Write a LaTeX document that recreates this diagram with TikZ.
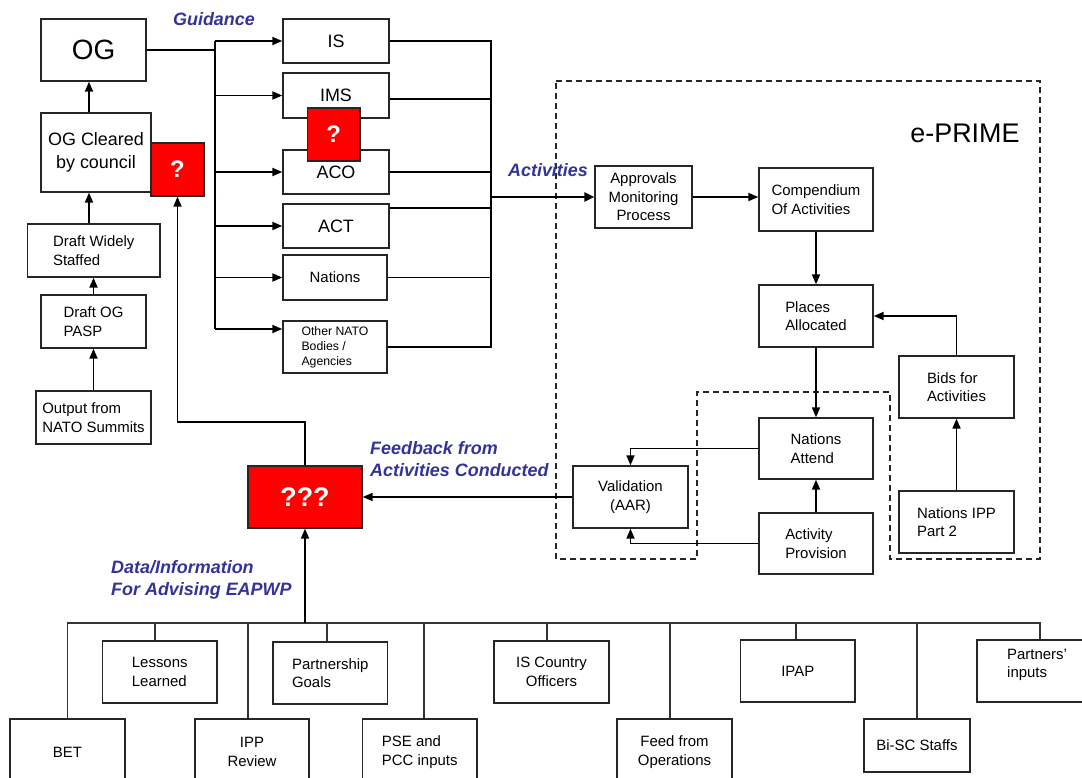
\documentclass[tikz,border=0pt]{standalone}
\usepackage{fontspec}
\setmainfont{Liberation Sans}
\usetikzlibrary{arrows.meta,calc}
\definecolor{lblue}{RGB}{51,51,153}
\newcommand\fsn{\fontsize{15}{18.5}\selectfont}
\begin{document}
\begin{tikzpicture}[x=1bp,y=-1bp,
  box/.style={draw=black!85,line width=1.3bp,fill=white,inner sep=0pt,align=center,font=\fsn},
  redbox/.style={draw=black!85,line width=1.3bp,fill=red,inner sep=0pt,text=white,font=\fontsize{24}{28}\selectfont\bfseries},
  ln/.style={line width=1.7bp,draw=black},
  thinln/.style={line width=1.3bp,draw=black!80},
  arr/.style={ln,-{Triangle[length=10bp,width=8bp]}},
  lbl/.style={text=lblue,font=\fontsize{18}{22.5}\selectfont\bfseries\itshape,align=left,inner sep=0pt},
  dsh/.style={line width=1.2bp,draw=black!85,dash pattern=on 6bp off 4bp}]
\useasboundingbox (0,0) rectangle (1082,778);
\clip (0,0) rectangle (1082,778);
\fill[white] (0,0) rectangle (1082,778);

% e-PRIME outline
\draw[dsh] (556,81) -- (1040,81) -- (1040,559) -- (890,559) -- (890,392) -- (697,392) -- (697,559) -- (556,559) -- cycle;
\node[font=\fontsize{27}{30}\selectfont, inner sep=0pt] (ep) at (965,133) {e-PRIME};

% left column
\node[box, minimum width=105bp, minimum height=62bp, font=\fontsize{28}{32}\selectfont] (OG) at (93.5,50) {OG};
\node[box, minimum width=110bp, minimum height=79bp, font=\fontsize{18}{22.5}\selectfont] (OGC) at (96,152.5) {OG Cleared\\by council};
\node[redbox, minimum width=53bp, minimum height=53bp] (q1) at (177.5,169.5) {?};
\node[box, align=left, minimum width=132.5bp, minimum height=53bp] (DWS) at (93.75,250.5) {Draft Widely\\Staffed};
\node[box, align=left, minimum width=105bp, minimum height=53bp] (DOG) at (93.5,321.5) {Draft OG\\PASP};
\node[box, align=left, minimum width=115bp, minimum height=53bp] (OUT) at (93.5,417.5) {Output from\\NATO Summits};

\draw[arr] ([xshift=-4.5bp]OG.south |- OGC.north) -- ([xshift=-4.5bp]OG.south);
\draw[arr] ([xshift=-4.5bp]OG.south |- DWS.north) -- ([xshift=-4.5bp]OG.south |- OGC.south);
\draw[arr] (DOG.north) -- (DOG.north |- DWS.south);
\draw[arr] (OUT.north) -- (DOG.south);

% guidance recipients
\node[box, minimum width=106bp, minimum height=44bp, font=\fontsize{18}{22}\selectfont] (IS) at (336,41) {IS};
\node[box, minimum width=106bp, minimum height=45bp, font=\fontsize{18}{22}\selectfont] (IMS) at (336,95.5) {IMS};
\node[box, minimum width=106bp, minimum height=44bp, font=\fontsize{18}{22}\selectfont] (ACO) at (336,172) {ACO};
\node[box, minimum width=106bp, minimum height=44bp, font=\fontsize{18}{22}\selectfont] (ACT) at (336,226) {ACT};
\node[box, minimum width=104bp, minimum height=45bp] (NAT) at (335,277.5) {Nations};
\node[box, align=left, minimum width=104bp, minimum height=52bp, font=\fontsize{12.3}{15}\selectfont] (OTH) at (335,347) {Other NATO\\Bodies /\\Agencies};
\node[redbox, minimum width=52.5bp, minimum height=53bp] (q2) at (333.75,134.5) {?};

\node[lbl] (guid) at (214,19) {Guidance};

% left bus
\coordinate (bl) at (215,50);
\draw[ln, line width=2.3bp] (OG.east) -- (bl);
\draw[ln] (bl |- IS.west) -- ([yshift=18bp]bl |- OTH.west);
\draw[arr] (bl |- IS.west) -- (IS.west);
\draw[arr] (bl |- IMS.west) -- (IMS.west);
\draw[arr] (bl |- ACO.west) -- (ACO.west);
\draw[arr] (bl |- ACT.west) -- (ACT.west);
\draw[arr] (bl |- NAT.west) -- (NAT.west);
\draw[arr] ([yshift=18bp]bl |- OTH.west) -- ([yshift=18bp]OTH.west);

% right bus
\coordinate (br) at (491,197);
\draw[ln] (IS.east) -- (br |- IS.east) -- (br |- OTH.east) -- (OTH.east);
\draw[ln] ([yshift=-3.5bp]IMS.east) -- ([yshift=-3.5bp]br |- IMS.east);
\draw[ln] (ACO.east) -- (br |- ACO.east);
\draw[ln] ([yshift=18bp]ACT.east) -- ([yshift=18bp]br |- ACT.east);
\draw[ln] (NAT.east) -- (br |- NAT.east);

% e-PRIME content
\node[box, minimum width=97bp, minimum height=62bp] (APP) at (643.5,197) {Approvals\\Monitoring\\Process};
\draw[ln, line width=2.8bp, -{Triangle[length=10bp,width=9bp]}] (br) -- (APP.west);
\node[lbl] (actl) at (548,170) {Activities};

\node[box, align=left, minimum width=114bp, minimum height=63bp] (COMP) at (816,199.5) {Compendium\\Of Activities};
\node[box, align=left, minimum width=114bp, minimum height=62bp] (PLA) at (816,316) {Places\\Allocated};
\node[box, align=left, minimum width=115bp, minimum height=62bp] (BIDS) at (956.5,387) {Bids for\\Activities};
\node[box, align=left, minimum width=114bp, minimum height=61bp] (NA) at (816,448.5) {Nations\\Attend};
\node[box, align=left, minimum width=114bp, minimum height=61bp] (AP) at (816,543.5) {Activity\\Provision};
\node[box, align=left, minimum width=115bp, minimum height=62bp] (NIPP) at (956.5,522) {Nations IPP\\Part 2};
\node[box, minimum width=115bp, minimum height=62bp] (VAL) at (630.5,497) {Validation\\(AAR)};

\draw[arr] (APP.east) -- (APP.east -| COMP.west);
\draw[arr] (COMP.south) -- (PLA.north);
\draw[arr] (PLA.south) -- (NA.north);
\draw[arr] (AP.north) -- (NA.south);
\draw[arr] (NIPP.north) -- (BIDS.south);
\draw[arr] (BIDS.north) |- (PLA.east);
\draw[arr] (NA.west) -| (VAL.north);
\draw[arr] (AP.west) -| (VAL.south);

% ??? box and feedback
\node[redbox, minimum width=114bp, minimum height=62bp, font=\fontsize{27}{30}\selectfont\bfseries] (QQQ) at (305,497) {???};
\draw[arr] (VAL.west) -- (QQQ.east);
\coordinate (fb) at (177.5,422);
\draw[arr] (QQQ.north) |- (fb) -- (q1.south);
\node[lbl, anchor=west] (fbl) at (370,459) {Feedback from\\Activities Conducted};
\node[lbl, anchor=west] (datl) at (111,580) {Data/Information\\For Advising EAPWP};

% bottom inputs
\node[box, minimum width=115bp, minimum height=66bp] (BET) at (67.5,752) {BET};
\node[box, align=left, minimum width=114.5bp, minimum height=62bp] (LL) at (159.75,672) {Lessons\\Learned};
\node[box, minimum width=114bp, minimum height=66bp] (IPP) at (252,752) {IPP\\Review};
\node[box, align=left, minimum width=114.5bp, minimum height=62bp] (PG) at (330.25,673) {Partnership\\Goals};
\node[box, align=left, minimum width=114.5bp, minimum height=66bp] (PSE) at (419.75,752) {PSE and\\PCC inputs};
\node[box, minimum width=115bp, minimum height=62bp] (ISC) at (551.5,672) {IS Country\\Officers};
\node[box, minimum width=115bp, minimum height=66bp] (FEED) at (674.5,752) {Feed from\\Operations};
\node[box, minimum width=114.5bp, minimum height=62bp] (IPAP) at (797.75,671) {IPAP};
\node[box, minimum width=106bp, minimum height=53bp] (BISC) at (917,745.5) {Bi-SC Staffs};
\node[box, minimum width=115bp, minimum height=62bp] (PART) at (1034.5,671) {};
\node[font=\fsn, align=left, anchor=west, inner sep=0pt] (PARTt) at (1007,665) {Partners’\\inputs};

\coordinate (bus) at (305,623);
\draw[thinln] (BET.north) |- ([xshift=5.5bp]PART.north |- bus) -- ([xshift=5.5bp]PART.north);
\draw[arr] (bus) -- (QQQ.south);
\draw[thinln] ([xshift=-4.75bp]LL.north) -- ([xshift=-4.75bp]LL.north |- bus);
\draw[thinln] ([xshift=-4bp]IPP.north) -- ([xshift=-4bp]IPP.north |- bus);
\draw[thinln] ([xshift=-3.25bp]PG.north) -- ([xshift=-3.25bp]PG.north |- bus);
\draw[thinln] ([xshift=4.25bp]PSE.north) -- ([xshift=4.25bp]PSE.north |- bus);
\draw[thinln] ([xshift=-4.5bp]ISC.north) -- ([xshift=-4.5bp]ISC.north |- bus);
\draw[thinln] ([xshift=-4.5bp]FEED.north) -- ([xshift=-4.5bp]FEED.north |- bus);
\draw[thinln] ([xshift=-1.75bp]IPAP.north) -- ([xshift=-1.75bp]IPAP.north |- bus);
\draw[thinln] (BISC.north) -- (BISC.north |- bus);
\end{tikzpicture}
\end{document}
